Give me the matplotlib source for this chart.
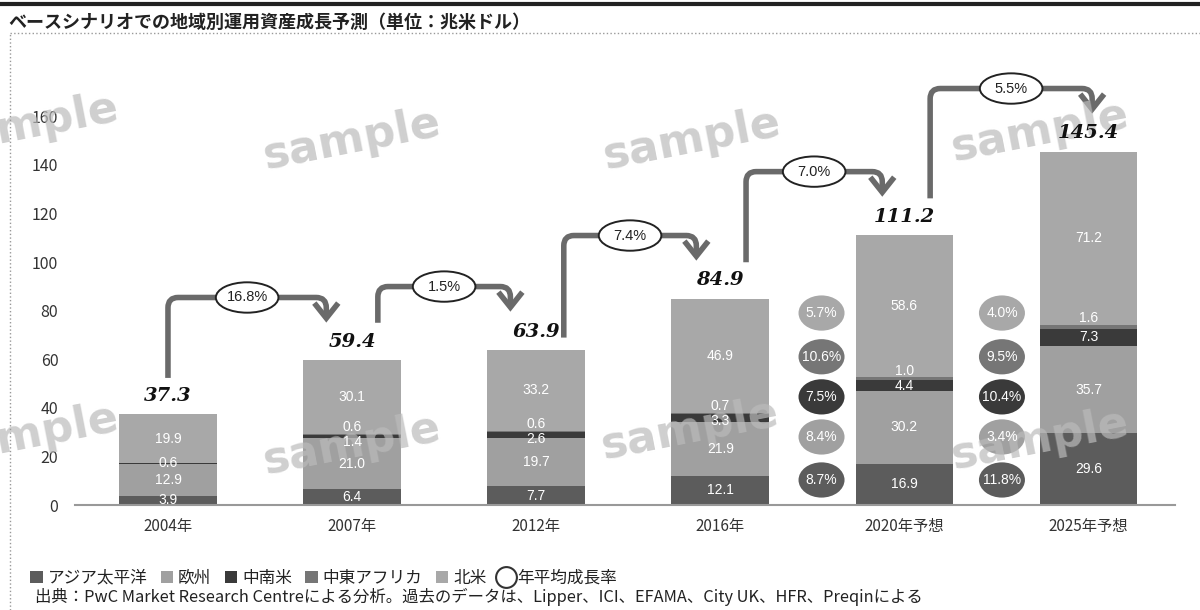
import numpy as np
import matplotlib.pyplot as plt
from matplotlib.patches import Ellipse, Patch, PathPatch
from matplotlib.path import Path
from matplotlib.lines import Line2D

plt.rcParams['font.family'] = ['Noto Sans CJK JP', 'DejaVu Sans']

# 地域別運用資産（兆米ドル）
years = ['2004年', '2007年', '2012年', '2016年', '2020年予想', '2025年予想']
asia = [3.9, 6.4, 7.7, 12.1, 16.9, 29.6]
europe = [12.9, 21.0, 19.7, 21.9, 30.2, 35.7]
latam = [0.6, 1.4, 2.6, 3.3, 4.4, 7.3]
mea = [0.0, 0.6, 0.6, 0.7, 1.0, 1.6]
namerica = [19.9, 30.1, 33.2, 46.9, 58.6, 71.2]
totals = [37.3, 59.4, 63.9, 84.9, 111.2, 145.4]

# 期間ごとの年平均成長率
period_rates = ['16.8%', '1.5%', '7.4%', '7.0%', '5.5%']
# 地域別の年平均成長率（上から 北米, 中東アフリカ, 中南米, 欧州, アジア太平洋）
rates_2016_2020 = ['5.7%', '10.6%', '7.5%', '8.4%', '8.7%']
rates_2020_2025 = ['4.0%', '9.5%', '10.4%', '3.4%', '11.8%']

regions = ['アジア太平洋', '欧州', '中南米', '中東アフリカ', '北米']
colors = ['#5c5c5c', '#a0a0a0', '#3a3a3a', '#767676', '#a8a8a8']
series = [asia, europe, latam, mea, namerica]

fig = plt.figure(figsize=(12, 6.1), dpi=100)
ax = fig.add_axes([75 / 1200, 105 / 610, 1100 / 1200, 0.717])

x = np.arange(len(years))
width = 0.53
bottom = np.zeros(len(years))
for vals, c in zip(series, colors):
    ax.bar(x, vals, width, bottom=bottom, color=c, zorder=2)
    bottom += np.array(vals)

num_font = ['Liberation Sans', 'DejaVu Sans']

# 区分ごとの数値
for i in range(len(years)):
    base = 0.0
    for k, vals in enumerate(series):
        v = vals[i]
        if v == 0:
            continue
        top = base + v
        if k == 2 and mea[i] > 0 and v < 5:
            y, va = top + 0.2, 'top'
        elif k == 3:
            y, va = top - 0.2, 'bottom'
        else:
            y, va = base + v / 2, 'center'
        ax.text(x[i], y, f'{v:.1f}', ha='center', va=va, color='white',
                fontsize=10, zorder=6, family=num_font)
        base = top

# 合計
for i, t in enumerate(totals):
    ax.text(x[i], t + 7.5, f'{t:.1f}', ha='center', va='center', fontsize=14,
            family='DejaVu Serif', style='italic', weight='bold', color='#111',
            zorder=6)

# 期間の矢印
lc = '#6a6a6a'
rx, ry = 0.055, 4.2
start_dx = [0.0, 0.14, 0.15, 0.14, 0.14]
start_dy = [15, 15.6, 5, 15, 15]
end_dx = [-0.14, -0.14, -0.13, -0.12, 0.02]
for i, r in enumerate(period_rates):
    x0 = x[i] + start_dx[i]
    y0 = totals[i] + start_dy[i]
    x1 = x[i + 1] + end_dx[i]
    y1 = totals[i + 1] + 17.5
    yh = totals[i + 1] + 26
    verts = [(x0, y0), (x0, yh - ry), (x0, yh), (x0 + rx, yh),
             (x1 - rx, yh), (x1, yh), (x1, yh - ry), (x1, y1)]
    codes = [Path.MOVETO, Path.LINETO, Path.CURVE3, Path.CURVE3,
             Path.LINETO, Path.CURVE3, Path.CURVE3, Path.LINETO]
    ax.add_patch(PathPatch(Path(verts, codes), fill=False, edgecolor=lc,
                           lw=4, capstyle='butt', joinstyle='round', zorder=3,
                           clip_on=False))
    ax.plot([x1 - 0.065, x1, x1 + 0.065], [y1 + 6.2, y1, y1 + 6.2], color=lc,
            lw=4, solid_joinstyle='miter', solid_capstyle='butt', zorder=3,
            clip_on=False)
    xm = (x0 + x1) / 2
    ax.add_patch(Ellipse((xm, yh), 0.34, 12.5, facecolor='white',
                         edgecolor='#222', lw=1.4, zorder=4, clip_on=False))
    ax.text(xm, yh, r, ha='center', va='center', fontsize=10.5, zorder=6,
            color='#222', family=num_font)

# 地域別成長率の楕円
bubble_y = [79, 61, 44.5, 28, 10.3]
bubble_c = [colors[4], colors[3], colors[2], colors[1], colors[0]]
for xc, rates in [(3.55, rates_2016_2020), (4.53, rates_2020_2025)]:
    for yc, c, r in zip(bubble_y, bubble_c, rates):
        ax.add_patch(Ellipse((xc, yc), 0.25, 14.5, facecolor=c,
                             edgecolor='none', zorder=3))
        ax.text(xc, yc, r, ha='center', va='center', color='white',
                fontsize=10, zorder=6, family=num_font)

ax.set_xlim(-0.505, 5.47)
ax.set_ylim(0, 180)
ax.set_yticks(range(0, 161, 20))
ax.set_xticks(x)
ax.set_xticklabels(years, fontsize=11, color='#333')
ax.tick_params(axis='y', length=0, pad=12, labelsize=11.5, labelcolor='#333')
ax.tick_params(axis='x', length=0, pad=9)
for s in ['top', 'right', 'left']:
    ax.spines[s].set_visible(False)
ax.spines['bottom'].set_color('#999')
ax.spines['bottom'].set_linewidth(1.5)
ax.set_facecolor('none')

# 見出しと枠線
fig.add_artist(Line2D([0, 1], [1 - 4 / 610, 1 - 4 / 610], color='#222', lw=3))
fig.add_artist(Line2D([10 / 1200, 1], [1 - 33 / 610, 1 - 33 / 610],
                      color='#999', lw=1, ls=':'))
fig.add_artist(Line2D([10 / 1200, 10 / 1200], [0, 1 - 33 / 610],
                      color='#999', lw=1, ls=':'))
fig.text(8 / 1200, 1 - 22 / 610, 'ベースシナリオでの地域別運用資産成長予測（単位：兆米ドル）',
         fontsize=13, weight='bold', va='center', ha='left', color='#222')

# 凡例
handles = [Patch(facecolor=c, edgecolor='none') for c in colors]
handles.append(Line2D([], [], marker='o', ls='none', markersize=15,
                      markerfacecolor='white', markeredgecolor='#333',
                      markeredgewidth=1.5))
fig.legend(handles, regions + ['年平均成長率'], ncol=6, frameon=False,
           loc='center left', bbox_to_anchor=(30 / 1200, 1 - 578 / 610),
           fontsize=12, handlelength=0.75, handleheight=0.75, handletextpad=0.3,
           columnspacing=0.8, borderpad=0, borderaxespad=0, labelcolor='#222')
fig.text(35 / 1200, 1 - 597 / 610,
         '出典：PwC Market Research Centreによる分析。過去のデータは、Lipper、ICI、EFAMA、City UK、HFR、Preqinによる',
         fontsize=11.8, va='center', ha='left', color='#222')

# 透かし（棒の上、数値の下）
for px, py in [(30, 125), (352, 140), (692, 140), (1040, 132),
               (30, 435), (352, 445), (690, 430), (1040, 440)]:
    ax.text(px / 1200, 1 - py / 610, 'sample', fontsize=32, weight='bold',
            color='#bbbbbb', alpha=0.7, rotation=11, ha='center', va='center',
            family='DejaVu Sans', zorder=5, transform=fig.transFigure,
            clip_on=False)

fig.savefig('out.png', dpi=100)
